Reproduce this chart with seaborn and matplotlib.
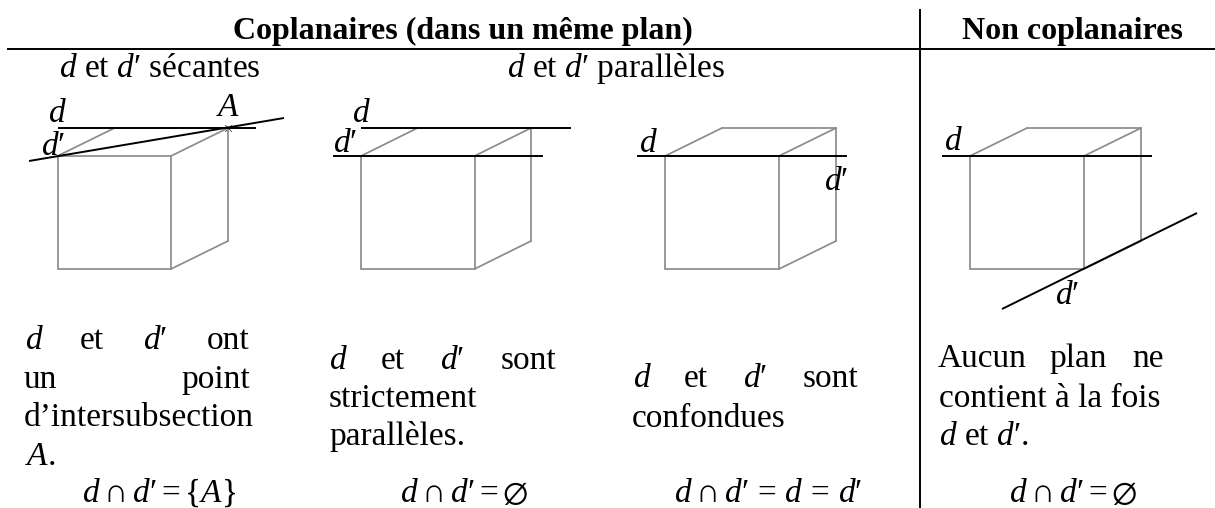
import pandas as pd
import matplotlib.pyplot as plt
import seaborn as sns

# cubes: front left x, front right x, back right x
cube_left = [57.5, 361, 665, 970]
cube_right = [171, 474.5, 779, 1084]
cube_back = [228, 531, 836, 1141]
y_back_top = 128
y_front_top = 156
y_back_bottom = 241
y_front_bottom = 269

# black lines (x1, y1, x2, y2)
black_lines = [
    (58, 128, 256, 128), (29, 161, 284, 118),
    (361, 128, 571, 128), (333, 156, 543, 156),
    (637, 156, 847, 156),
    (942, 156, 1152, 156), (1002, 309, 1197, 213),
]
rules = [(7, 48.5, 1215, 48.5), (920, 9, 920, 508)]

titles = [
    (463, 39, 'Coplanaires (dans un même plan)'),
    (1072, 39, 'Non coplanaires'),
]
subtitles = [
    (160, 77, r'$d$ et $d′$ sécantes'),
    (616, 77, r'$d$ et $d′$ parallèles'),
]
labels = [
    (57, 122, '$d$'), (53, 155, r'$d′$'), (228, 116, '$A$'),
    (361, 122, '$d$'), (345, 152, r'$d′$'),
    (648, 152, '$d$'), (836, 190, r'$d′$'),
    (953, 150, '$d$'), (1067, 304, r'$d′$'),
]
# left aligned words
words_left = [
    (25, 349, '$d$'), (80, 349, 'et'), (143, 349, r'$d′$'),
    (24, 388, 'un'), (24, 426, 'd’intersubsection'), (25, 465, '$A$.'),
    (329, 369, '$d$'), (381, 369, 'et'), (440, 369, r'$d′$'),
    (329, 407, 'strictement'), (329, 445, 'parallèles.'),
    (633, 387, '$d$'), (684, 387, 'et'), (743, 387, r'$d′$'),
    (632, 427, 'confondues'),
    (938, 367, 'Aucun'), (1049, 367, 'plan'),
    (939, 407, 'contient à la fois'), (939, 445, r'$d$ et $d′$.'),
]
# right aligned words
words_right = [
    (250, 349, 'ont'), (250, 388, 'point'), (556, 369, 'sont'),
    (858, 387, 'sont'), (1164, 367, 'ne'),
]
formulas = [
    (159, 502, r'$d \cap d′ = \{A\}$'),
    (464, 502, r'$d \cap d′ = \varnothing$'),
    (768, 502, r'$d \cap d′\,=\,d\,=\,d′$'),
    (1073, 502, r'$d \cap d′ = \varnothing$'),
]
cross_x = [228]
cross_y = [128]

sns.set_theme(style='white')
plt.rcParams['font.family'] = ['Liberation Serif', 'DejaVu Serif']
plt.rcParams['text.color'] = 'black'
plt.rcParams['mathtext.fontset'] = 'custom'
plt.rcParams['mathtext.rm'] = 'Liberation Serif'
plt.rcParams['mathtext.it'] = 'Liberation Serif:italic'
plt.rcParams['mathtext.fallback'] = 'stix'

fig = plt.figure(figsize=(12.15, 5.08), dpi=100)
ax = fig.add_axes([0, 0, 1, 1])


def segments_df(segments):
    rows = []
    for i, (x1, y1, x2, y2) in enumerate(segments):
        rows.append({'seg': i, 'x': x1, 'y': y1})
        rows.append({'seg': i, 'x': x2, 'y': y2})
    return pd.DataFrame(rows)


def draw(segments, color, width, cap='butt'):
    sns.lineplot(data=segments_df(segments), x='x', y='y', units='seg',
                 estimator=None, sort=False, color=color, linewidth=width,
                 ax=ax, solid_capstyle=cap)


# cube edges
cube_edges = []
for xl, xr, xb in zip(cube_left, cube_right, cube_back):
    xbl = xb - (xr - xl)
    cube_edges += [
        (xl, y_front_top, xr, y_front_top), (xr, y_front_top, xr, y_front_bottom),
        (xr, y_front_bottom, xl, y_front_bottom), (xl, y_front_bottom, xl, y_front_top),
        (xl, y_front_top, xbl, y_back_top), (xbl, y_back_top, xb, y_back_top),
        (xb, y_back_top, xr, y_front_top), (xb, y_back_top, xb, y_back_bottom),
        (xb, y_back_bottom, xr, y_front_bottom),
    ]
draw(cube_edges, '#8c8c8c', 1.25, cap='round')
draw(black_lines, 'black', 1.4)
draw(rules, 'black', 1.4)
sns.scatterplot(x=cross_x, y=cross_y, marker='x', s=22, color='#333333', linewidth=0.6, ax=ax)

size = 24
for x, y, t in titles:
    ax.text(x, y, t, fontsize=23, fontweight='bold', ha='center', va='baseline')
for x, y, t in subtitles + labels + formulas:
    ax.text(x, y, t, fontsize=size, ha='center', va='baseline')
for x, y, t in words_left:
    ax.text(x, y, t, fontsize=size, ha='left', va='baseline')
for x, y, t in words_right:
    ax.text(x, y, t, fontsize=size, ha='right', va='baseline')

ax.set_xlim(0, 1215)
ax.set_ylim(508, 0)
ax.axis('off')
fig.savefig('out.png', dpi=100)
